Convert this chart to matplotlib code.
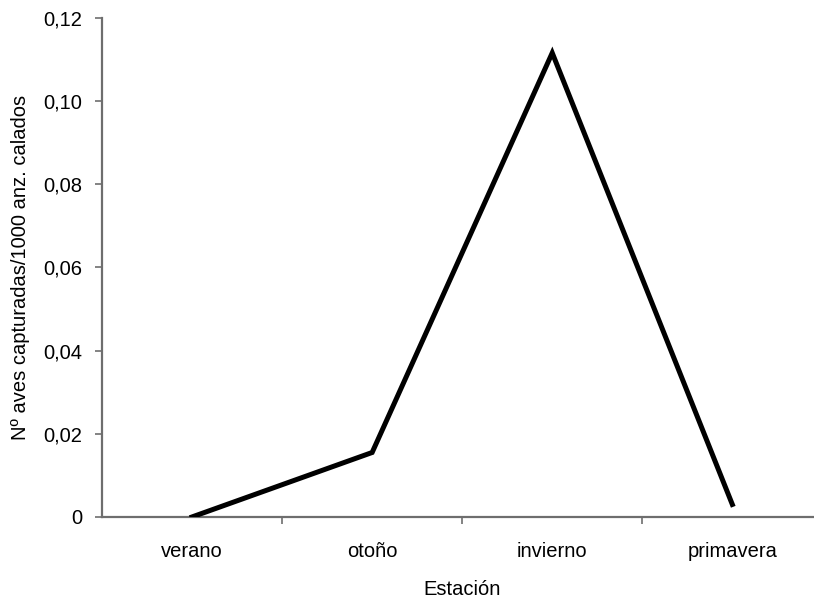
import matplotlib.pyplot as plt
from matplotlib.ticker import FixedLocator

plt.rcParams['font.family'] = ['Liberation Sans', 'DejaVu Sans']

estaciones = ['verano', 'otoño', 'invierno', 'primavera']
capturas = [0.0, 0.0155, 0.1116, 0.003]
yticks = [0, 0.02, 0.04, 0.06, 0.08, 0.10, 0.12]
ylabels = ['0', '0,02', '0,04', '0,06', '0,08', '0,10', '0,12']

fig = plt.figure(figsize=(8.14, 5.99), dpi=100)
ax = fig.add_axes([0.1253, 0.137, 0.885, 0.833])

x = list(range(len(estaciones)))
ax.plot(x, capturas, color='black', lw=3.6, solid_joinstyle='miter')

ax.set_xlim(-0.5, 3.5)
ax.set_ylim(0, 0.12)
ax.set_yticks(yticks)
ax.set_yticklabels(ylabels)
ax.set_xticks(x)
ax.set_xticklabels(estaciones)
ax.xaxis.set_minor_locator(FixedLocator([0.5, 1.5, 2.5]))

gris = '#6e6e6e'
for s in ['top', 'right']:
    ax.spines[s].set_visible(False)
for s in ['left', 'bottom']:
    ax.spines[s].set_color(gris)
    ax.spines[s].set_linewidth(1.6)
    ax.spines[s].set_zorder(1)

ax.tick_params(axis='x', which='major', length=0, pad=18, labelsize=14.5)
ax.tick_params(axis='x', which='minor', length=5, width=1.2, color=gris)
ax.tick_params(axis='y', length=5, width=1.2, color=gris, labelsize=14.5, pad=9)

ax.set_xlabel('Estación', fontsize=14.5, labelpad=14)
ax.set_ylabel('Nº aves capturadas/1000 anz. calados', fontsize=14.5, labelpad=10)

fig.savefig('out.png', dpi=100)
